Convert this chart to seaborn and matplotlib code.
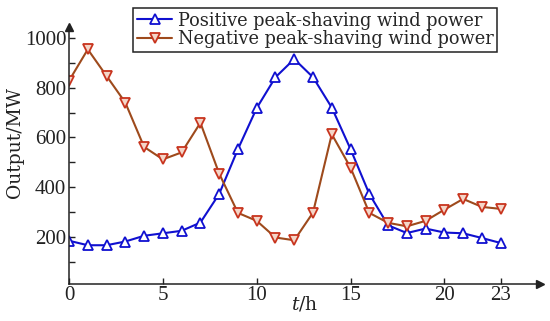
"""Positive / negative peak-shaving wind power over a day."""

import matplotlib.pyplot as plt
import pandas as pd
import seaborn as sns

hours = list(range(24))
positive = [185, 167, 167, 182, 205, 215, 225, 258, 373, 553, 718, 842, 915, 842, 720, 553,
            373, 247, 216, 234, 218, 215, 196, 176]
negative = [828, 954, 847, 740, 562, 512, 540, 659, 455, 297, 265, 198, 187, 298, 613, 479,
            297, 257, 243, 265, 310, 353, 321, 313]
xticks = [0, 5, 10, 15, 20, 23]
yticks = [200, 400, 600, 800, 1000]
label_pos = "Positive peak-shaving wind power"
label_neg = "Negative peak-shaving wind power"

df = pd.DataFrame({"hour": hours, "pos": positive, "neg": negative})

sns.set_style("ticks")
plt.rcParams["font.family"] = ["Liberation Serif", "DejaVu Serif"]
plt.rcParams["mathtext.fontset"] = "custom"
plt.rcParams["mathtext.it"] = "DejaVu Serif:italic"
plt.rcParams["mathtext.rm"] = "DejaVu Serif"

fig = plt.figure(figsize=(5.5, 3.21), dpi=100)
ax = fig.add_axes([0.1255, 0.1143, 0.8565, 0.8017])

sns.lineplot(data=df, x="hour", y="pos", ax=ax, color="#1010D0", lw=1.5,
             marker="^", markersize=7, markerfacecolor="white",
             markeredgecolor="#1010D0", markeredgewidth=1.3, label=label_pos)
sns.lineplot(data=df, x="hour", y="neg", ax=ax, color="#9E4A1C", lw=1.5,
             marker="v", markersize=7, markerfacecolor="#F4D6C8",
             markeredgecolor="#C8341E", markeredgewidth=1.3, label=label_neg)

ax.set_xlim(0, 25.1)
ax.set_ylim(10, 1044)
ax.set_xticks(xticks)
ax.set_yticks(yticks)
ax.set_yticks([100, 300, 500, 700, 900], minor=True)
ax.tick_params(axis="both", which="both", direction="in", labelsize=15, pad=2,
               colors="#222222", labelcolor="#222222")
ax.tick_params(axis="x", pad=1)
ax.tick_params(which="major", length=4, width=1)
ax.tick_params(which="minor", length=4, width=1)

sns.despine(ax=ax)
for s in ("left", "bottom"):
    ax.spines[s].set_linewidth(1.1)
    ax.spines[s].set_color("#222222")
# arrow heads at the axis ends
ax.plot(1, 0, ">", color="#222222", ms=6, transform=ax.transAxes, clip_on=False)
ax.plot(0, 1, "^", color="#222222", ms=6, transform=ax.transAxes, clip_on=False)

ax.set_xlabel("$t$/h", fontsize=13.5, color="#222222", family="DejaVu Serif")
ax.set_ylabel("Output/MW", fontsize=13.5, color="#222222", family="DejaVu Serif")
ax.xaxis.set_label_coords(0.5, -0.075, transform=ax.transAxes)
ax.yaxis.set_label_coords(-0.115, 0.55, transform=ax.transAxes)
ax.xaxis.label.set_va("center")
ax.yaxis.label.set_va("center")

leg = ax.legend(loc="upper right", bbox_to_anchor=(497 / 550, 1 - 8 / 321),
                bbox_transform=fig.transFigure, borderaxespad=0,
                prop={"family": "DejaVu Serif", "size": 12.8},
                frameon=True, fancybox=False, edgecolor="#222222", framealpha=1,
                handlelength=2.0, handletextpad=0.3, labelspacing=0.05, borderpad=0.2)
leg.get_frame().set_linewidth(1.1)

fig.savefig("out.png", dpi=100)
